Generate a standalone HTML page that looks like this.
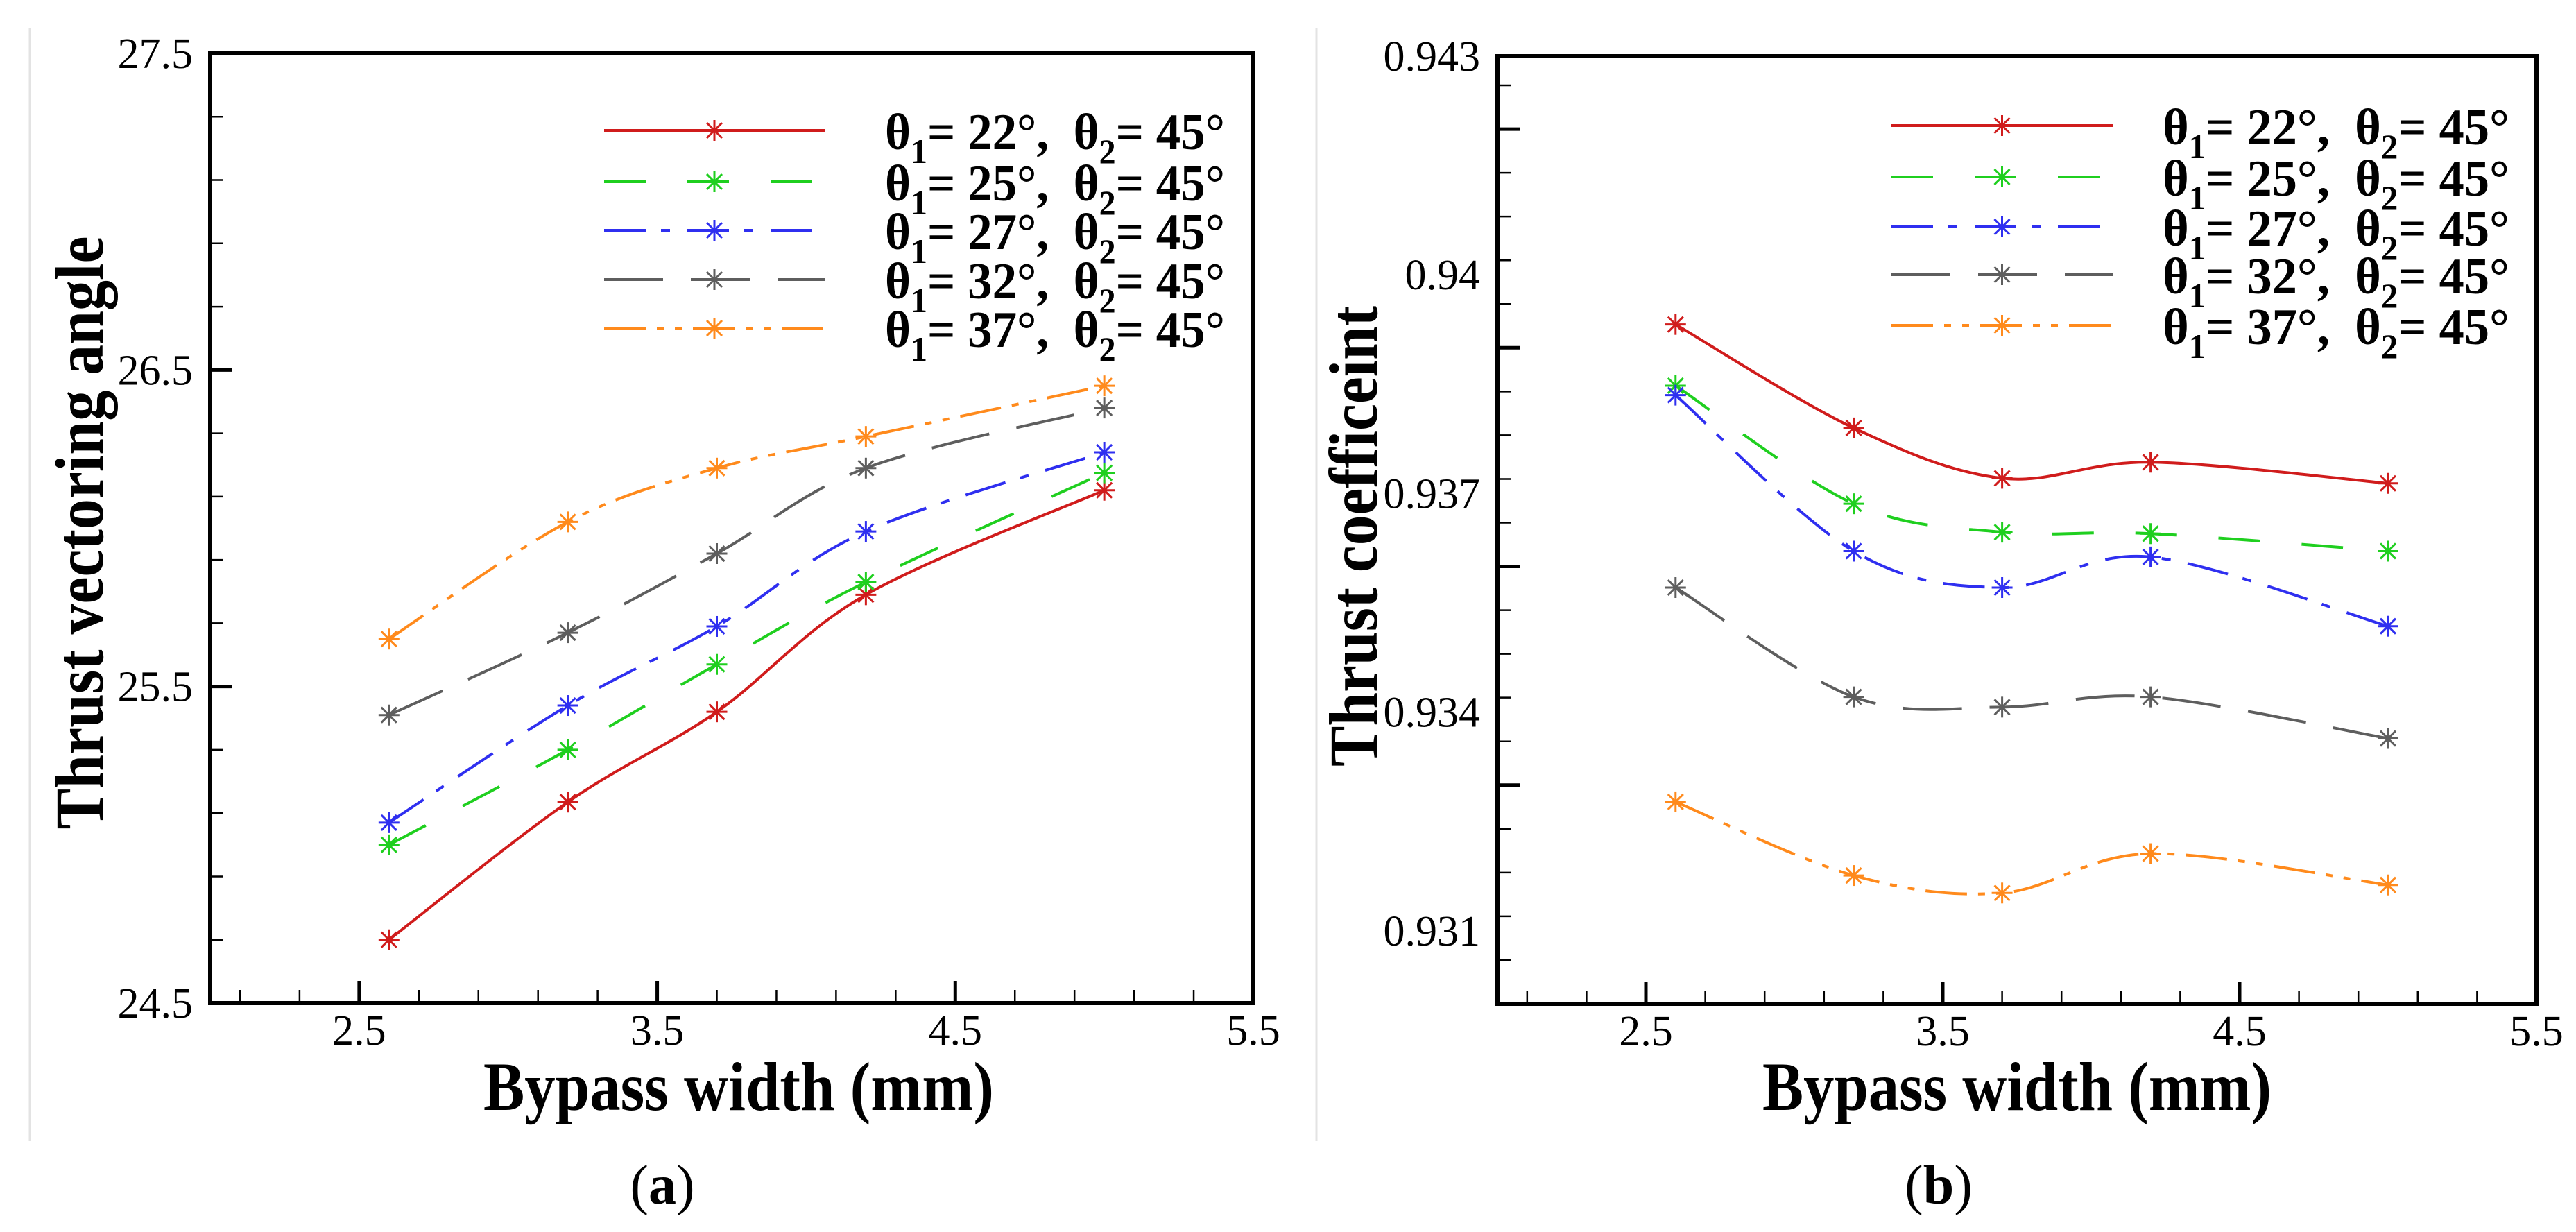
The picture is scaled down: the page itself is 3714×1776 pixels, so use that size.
<!DOCTYPE html>
<html><head><meta charset="utf-8"><title>Thrust vectoring angle and thrust coefficient vs bypass width</title>
<style>html,body{margin:0;padding:0;background:#fff;}svg{display:block;}
svg text{font-family:"Liberation Serif","Times New Roman",serif;}</style></head>
<body>
<svg id="fig" xmlns="http://www.w3.org/2000/svg" width="3714" height="1776" viewBox="0 0 3714 1776">
<rect x="0" y="0" width="3714" height="1776" fill="#fff"/>
<line x1="43" y1="40" x2="43" y2="1645" stroke="#e3e3e3" stroke-width="3"/>
<line x1="1898" y1="40" x2="1898" y2="1645" stroke="#e3e3e3" stroke-width="3"/>
<g id="pa"></g>
<g id="pb"></g>
</svg>
<script>
const xCats = [2.6, 3.2, 3.7, 4.2, 5.0];
const xTickLabels = ["2.5", "3.5", "4.5", "5.5"];
const seriesNames = ["22", "25", "27", "32", "37"];
const tvaRed = [24.70, 25.135, 25.42, 25.79, 26.12];
const tvaGreen = [25.0, 25.30, 25.57, 25.83, 26.175];
const tvaBlue = [25.07, 25.44, 25.69, 25.99, 26.24];
const tvaGray = [25.41, 25.67, 25.92, 26.19, 26.38];
const tvaOrange = [25.65, 26.02, 26.19, 26.29, 26.45];
const tvaTickLabels = ["24.5", "25.5", "26.5", "27.5"];
const tcRed = [0.93932, 0.93790, 0.93721, 0.93743, 0.93714];
const tcGreen = [0.93848, 0.93686, 0.93647, 0.93645, 0.93621];
const tcBlue = [0.93835, 0.93621, 0.93571, 0.93613, 0.93518];
const tcGray = [0.93571, 0.93421, 0.93407, 0.93421, 0.93364];
const tcOrange = [0.93277, 0.93176, 0.93152, 0.93206, 0.93163];
const tcTickLabels = ["0.931", "0.934", "0.937", "0.94", "0.943"];

const NS = "http://www.w3.org/2000/svg";
const colors = ["#d01c1c", "#1fcf1f", "#2f2ff0", "#5e5e5e", "#ff8a1c"];
const dashes = ["", "60 60", "60 22 13 25", "85 40", "60 16 10 16 10 16"];
const seriesKeys = ["red", "green", "blue", "gray", "orange"];

function mk(tag, attrs, parent) {
  const e = document.createElementNS(NS, tag);
  for (const k in attrs) e.setAttribute(k, attrs[k]);
  parent.appendChild(e);
  return e;
}
function asterisk(g, cx, cy, color, name) {
  const s = mk("g", {stroke: color, "stroke-width": 3}, g);
  
  
  const r = 15, d = 11;
  mk("line", {x1: cx, y1: cy - r, x2: cx, y2: cy + r}, s);
  mk("line", {x1: cx - r, y1: cy, x2: cx + r, y2: cy}, s);
  mk("line", {x1: cx - d, y1: cy - d, x2: cx + d, y2: cy + d}, s);
  mk("line", {x1: cx - d, y1: cy + d, x2: cx + d, y2: cy - d}, s);
}
function smoothPath(pts) {
  let d = "M" + pts[0][0] + "," + pts[0][1];
  for (let i = 0; i < pts.length - 1; i++) {
    const p0 = pts[Math.max(0, i - 1)], p1 = pts[i], p2 = pts[i + 1], p3 = pts[Math.min(pts.length - 1, i + 2)];
    const c1x = p1[0] + (p2[0] - p0[0]) / 6, c1y = p1[1] + (p2[1] - p0[1]) / 6;
    const c2x = p2[0] - (p3[0] - p1[0]) / 6, c2y = p2[1] - (p3[1] - p1[1]) / 6;
    d += " C" + c1x + "," + c1y + " " + c2x + "," + c2y + " " + p2[0] + "," + p2[1];
  }
  return d;
}

function drawPanel(g, cfg) {
  const L = cfg.left, R = cfg.right, T = cfg.top, B = cfg.bottom;
  const sx = v => L + (v - 2) / 3.5 * (R - L);
  const sy = v => B - (v - cfg.ymin) / (cfg.ymax - cfg.ymin) * (B - T);
  const tg = mk("g", {stroke: "#000"}, g);
  
  
  for (let i = 0; i < 17; i++) {
    const v = 2.1 + i * 0.2;
    const maj = (i - 2) % 5 === 0;
    const x = sx(v);
    mk("line", {x1: x, y1: B, x2: x, y2: B - (maj ? 32 : 19), "stroke-width": maj ? 5 : 2.5}, tg);
  }
  const nMinor = Math.round((cfg.ymax - cfg.ymin) / cfg.minorStep);
  for (let i = 1; i < nMinor; i++) {
    const v = cfg.ymin + i * cfg.minorStep;
    const maj = i % 5 === cfg.majorOffset;
    mk("line", {x1: L, y1: sy(v), x2: L + (maj ? 32 : 19), y2: sy(v), "stroke-width": maj ? 5 : 2.5}, tg);
  }
  xTickLabels.forEach(lbl => {
    const t = mk("text", {x: sx(parseFloat(lbl)), y: B + 60, "font-size": 62, "text-anchor": "middle", fill: "#000"}, g);
    
    
    t.textContent = lbl;
  });
  cfg.yLabels.forEach(lbl => {
    const t = mk("text", {x: L - 25, y: sy(parseFloat(lbl)) + 21, "font-size": 62, "text-anchor": "end", fill: "#000"}, g);
    
    
    t.textContent = lbl;
  });
  cfg.series.forEach((vals, si) => {
    const sg = mk("g", {}, g);
    
    
    const pts = vals.map((v, i) => [sx(xCats[i]), sy(v)]);
    const p = mk("path", {d: smoothPath(pts), fill: "none", stroke: colors[si], "stroke-width": 4}, sg);
    if (dashes[si]) p.setAttribute("stroke-dasharray", dashes[si]);
    
    
    pts.forEach(pt => asterisk(sg, pt[0], pt[1], colors[si], 'point-' + seriesKeys[si]));
  });
  const fr = mk("rect", {x: L, y: T, width: R - L, height: B - T, fill: "none", stroke: "#000", "stroke-width": 6}, g);
  
  
  const lg = mk("g", {}, g);
  
  
  cfg.legendRows.forEach((ry, si) => {
    const eg = mk("g", {}, lg);
    
    
    const ln = mk("line", {x1: cfg.legX1, y1: ry, x2: cfg.legX2, y2: ry, stroke: colors[si], "stroke-width": 4}, eg);
    if (dashes[si]) ln.setAttribute("stroke-dasharray", dashes[si]);
    asterisk(eg, (cfg.legX1 + cfg.legX2) / 2, ry, colors[si], 'legend-marker');
    const t = mk("text", {x: cfg.legTX, y: ry + 27, "font-size": 74, "font-weight": "bold", fill: "#000", textLength: cfg.legTW, lengthAdjust: "spacingAndGlyphs"}, eg);
    
    
    t.innerHTML = 'θ<tspan dy="20" font-size="50">1</tspan><tspan dy="-20">= ' + seriesNames[si] + '°,\u00a0\u00a0θ</tspan><tspan dy="20" font-size="50">2</tspan><tspan dy="-20">= 45°</tspan>';
  });
  const xt = mk("text", {x: cfg.xTitleX, y: cfg.xTitleY, "font-size": 100, "font-weight": "bold", "text-anchor": "middle", textLength: cfg.xTitleW, lengthAdjust: "spacingAndGlyphs"}, g);
  
  
  xt.textContent = "Bypass width (mm)";
  const yt = mk("text", {x: 0, y: 0, "font-size": 100, "font-weight": "bold", "text-anchor": "middle", textLength: cfg.yTitleW, lengthAdjust: "spacingAndGlyphs", transform: "translate(" + cfg.yTitleX + "," + cfg.yTitleY + ") rotate(-90)"}, g);
  
  
  yt.textContent = cfg.yTitle;
  const cap = mk("text", {x: cfg.capX, y: 1735, "font-size": 80, "text-anchor": "middle"}, g);
  
  
  cap.innerHTML = '(<tspan font-weight="bold">' + cfg.cap + '</tspan>)';
}

drawPanel(document.getElementById("pa"), {
  left: 303, right: 1807, top: 77, bottom: 1446, ymin: 24.5, ymax: 27.5, minorStep: 0.2, majorOffset: 0,
  yLabels: tvaTickLabels, series: [tvaRed, tvaGreen, tvaBlue, tvaGray, tvaOrange],
  legendRows: [188, 262, 332, 403, 473], legX1: 871, legX2: 1189, legTX: 1276, legTW: 490,
  xTitleX: 1065, xTitleY: 1600, xTitleW: 736, yTitle: "Thrust vectoring angle", yTitleX: 148, yTitleY: 768, yTitleW: 855,
  capX: 955, cap: "a"
});
drawPanel(document.getElementById("pb"), {
  left: 2159, right: 3657, top: 81, bottom: 1447, ymin: 0.930, ymax: 0.943, minorStep: 0.0006, majorOffset: 0,
  yLabels: tcTickLabels, series: [tcRed, tcGreen, tcBlue, tcGray, tcOrange],
  legendRows: [181, 255, 327, 396, 469], legX1: 2727, legX2: 3046, legTX: 3118, legTW: 500,
  xTitleX: 2908, xTitleY: 1600, xTitleW: 734, yTitle: "Thrust coefficeint", yTitleX: 1985, yTitleY: 773, yTitleW: 664,
  capX: 2795, cap: "b"
});
</script>
</body></html>
